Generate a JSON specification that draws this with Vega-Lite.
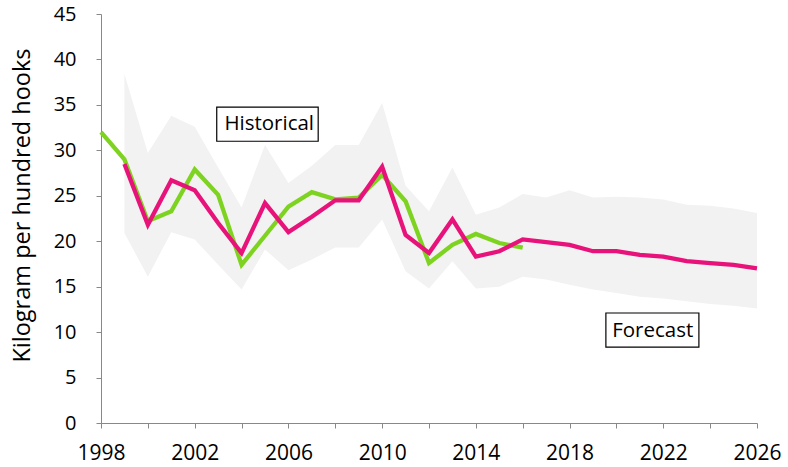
{
  "$schema": "https://vega.github.io/schema/vega-lite/v6.json",
  "width": 656,
  "height": 409,
  "autosize": "none",
  "padding": {"left": 101, "top": 14, "right": 31, "bottom": 44},
  "background": "white",
  "config": {"view": {"stroke": null}, "font": "Open Sans"},
  "datasets": {
    "band": [
      {"year": 1999, "lo": 20.9, "hi": 38.4},
      {"year": 2000, "lo": 16.1, "hi": 29.7},
      {"year": 2001, "lo": 21.0, "hi": 33.8},
      {"year": 2002, "lo": 20.2, "hi": 32.6},
      {"year": 2003, "lo": 17.4, "hi": 28.1},
      {"year": 2004, "lo": 14.7, "hi": 23.7},
      {"year": 2005, "lo": 19.1, "hi": 30.6},
      {"year": 2006, "lo": 16.8, "hi": 26.4},
      {"year": 2007, "lo": 18.0, "hi": 28.3},
      {"year": 2008, "lo": 19.3, "hi": 30.6},
      {"year": 2009, "lo": 19.3, "hi": 30.6},
      {"year": 2010, "lo": 22.4, "hi": 35.2},
      {"year": 2011, "lo": 16.7, "hi": 26.1},
      {"year": 2012, "lo": 14.8, "hi": 23.3},
      {"year": 2013, "lo": 17.8, "hi": 28.1},
      {"year": 2014, "lo": 14.8, "hi": 22.9},
      {"year": 2015, "lo": 15.0, "hi": 23.7},
      {"year": 2016, "lo": 16.1, "hi": 25.2},
      {"year": 2017, "lo": 15.8, "hi": 24.8},
      {"year": 2018, "lo": 15.2, "hi": 25.6},
      {"year": 2019, "lo": 14.7, "hi": 24.8},
      {"year": 2020, "lo": 14.3, "hi": 24.9},
      {"year": 2021, "lo": 13.9, "hi": 24.8},
      {"year": 2022, "lo": 13.7, "hi": 24.6},
      {"year": 2023, "lo": 13.4, "hi": 24.0},
      {"year": 2024, "lo": 13.1, "hi": 23.9},
      {"year": 2025, "lo": 12.9, "hi": 23.6},
      {"year": 2026, "lo": 12.6, "hi": 23.1}
    ],
    "lines": [
      {"year": 1998, "series": "Observed", "value": 32.0},
      {"year": 1999, "series": "Observed", "value": 29.0},
      {"year": 2000, "series": "Observed", "value": 22.2},
      {"year": 2001, "series": "Observed", "value": 23.3},
      {"year": 2002, "series": "Observed", "value": 27.9},
      {"year": 2003, "series": "Observed", "value": 25.1},
      {"year": 2004, "series": "Observed", "value": 17.4},
      {"year": 2005, "series": "Observed", "value": 20.6},
      {"year": 2006, "series": "Observed", "value": 23.8},
      {"year": 2007, "series": "Observed", "value": 25.4},
      {"year": 2008, "series": "Observed", "value": 24.6},
      {"year": 2009, "series": "Observed", "value": 24.8},
      {"year": 2010, "series": "Observed", "value": 27.3},
      {"year": 2011, "series": "Observed", "value": 24.4},
      {"year": 2012, "series": "Observed", "value": 17.6},
      {"year": 2013, "series": "Observed", "value": 19.6},
      {"year": 2014, "series": "Observed", "value": 20.8},
      {"year": 2015, "series": "Observed", "value": 19.8},
      {"year": 2016, "series": "Observed", "value": 19.3},
      {"year": 1999, "series": "Model", "value": 28.5},
      {"year": 2000, "series": "Model", "value": 21.8},
      {"year": 2001, "series": "Model", "value": 26.7},
      {"year": 2002, "series": "Model", "value": 25.6},
      {"year": 2003, "series": "Model", "value": 22.0},
      {"year": 2004, "series": "Model", "value": 18.7},
      {"year": 2005, "series": "Model", "value": 24.2},
      {"year": 2006, "series": "Model", "value": 21.0},
      {"year": 2007, "series": "Model", "value": 22.7},
      {"year": 2008, "series": "Model", "value": 24.5},
      {"year": 2009, "series": "Model", "value": 24.5},
      {"year": 2010, "series": "Model", "value": 28.2},
      {"year": 2011, "series": "Model", "value": 20.7},
      {"year": 2012, "series": "Model", "value": 18.7},
      {"year": 2013, "series": "Model", "value": 22.4},
      {"year": 2014, "series": "Model", "value": 18.3},
      {"year": 2015, "series": "Model", "value": 18.9},
      {"year": 2016, "series": "Model", "value": 20.2},
      {"year": 2017, "series": "Model", "value": 19.9},
      {"year": 2018, "series": "Model", "value": 19.6},
      {"year": 2019, "series": "Model", "value": 18.9},
      {"year": 2020, "series": "Model", "value": 18.9},
      {"year": 2021, "series": "Model", "value": 18.5},
      {"year": 2022, "series": "Model", "value": 18.3},
      {"year": 2023, "series": "Model", "value": 17.8},
      {"year": 2024, "series": "Model", "value": 17.6},
      {"year": 2025, "series": "Model", "value": 17.4},
      {"year": 2026, "series": "Model", "value": 17.0}
    ],
    "labels": [
      {"label": "Historical", "x": 2005.18, "y": 32.85, "x1": 2002.94, "x2": 2007.27, "y1": 31.0, "y2": 34.76},
      {"label": "Forecast", "x": 2021.55, "y": 10.1, "x1": 2019.55, "x2": 2023.52, "y1": 8.35, "y2": 12.1}
    ]
  },
  "layer": [
    {
      "data": {"name": "band"},
      "mark": {"type": "area", "color": "#f2f2f2", "opacity": 1},
      "encoding": {
        "x": {
          "field": "year", "type": "quantitative",
          "scale": {"domain": [1998, 2026], "nice": false, "zero": false},
          "axis": {
            "title": null,
            "values": [1998,1999,2000,2001,2002,2003,2004,2005,2006,2007,2008,2009,2010,2011,2012,2013,2014,2015,2016,2017,2018,2019,2020,2021,2022,2023,2024,2025,2026],
            "labelExpr": "(datum.value - 1998) % 4 == 0 ? datum.value : ''",
            "format": "d",
            "grid": false,
            "domainColor": "#888888",
            "tickColor": "#888888",
            "tickSize": 5,
            "labelFontSize": 21,
            "labelColor": "#000000",
            "labelPadding": 14,
            "labelFlush": false,
            "labelOverlap": false
          }
        },
        "y": {
          "field": "lo", "type": "quantitative",
          "scale": {"domain": [0, 45], "nice": false},
          "axis": {
            "title": "Kilogram per hundred hooks",
            "titleFontSize": 23.5,
            "titleFontWeight": "normal",
            "titleColor": "#000000",
            "titleX": -79,
            "titleY": 191,
            "titleAngle": 270,
            "titleAlign": "center",
            "titleBaseline": "middle",
            "values": [0,5,10,15,20,25,30,35,40,45],
            "grid": false,
            "domainColor": "#888888",
            "tickColor": "#888888",
            "tickSize": 5,
            "labelFontSize": 20,
            "labelColor": "#000000",
            "labelPadding": 20
          }
        },
        "y2": {"field": "hi"}
      }
    },
    {
      "data": {"name": "lines"},
      "mark": {"type": "line", "strokeWidth": 4.3, "strokeJoin": "miter"},
      "encoding": {
        "x": {"field": "year", "type": "quantitative"},
        "y": {"field": "value", "type": "quantitative"},
        "color": {
          "field": "series", "type": "nominal",
          "scale": {"domain": ["Observed", "Model"], "range": ["#7ed321", "#e8137a"]},
          "legend": null
        },
        "order": {"field": "year"}
      }
    },
    {
      "data": {"name": "labels"},
      "mark": {"type": "rect", "fill": "white", "stroke": "#000000", "strokeWidth": 1.2},
      "encoding": {
        "x": {"field": "x1", "type": "quantitative"},
        "x2": {"field": "x2"},
        "y": {"field": "y1", "type": "quantitative"},
        "y2": {"field": "y2"}
      }
    },
    {
      "data": {"name": "labels"},
      "mark": {"type": "text", "fontSize": 20.5, "color": "#000000", "align": "center", "baseline": "middle"},
      "encoding": {
        "x": {"field": "x", "type": "quantitative"},
        "y": {"field": "y", "type": "quantitative"},
        "text": {"field": "label"}
      }
    }
  ]
}
